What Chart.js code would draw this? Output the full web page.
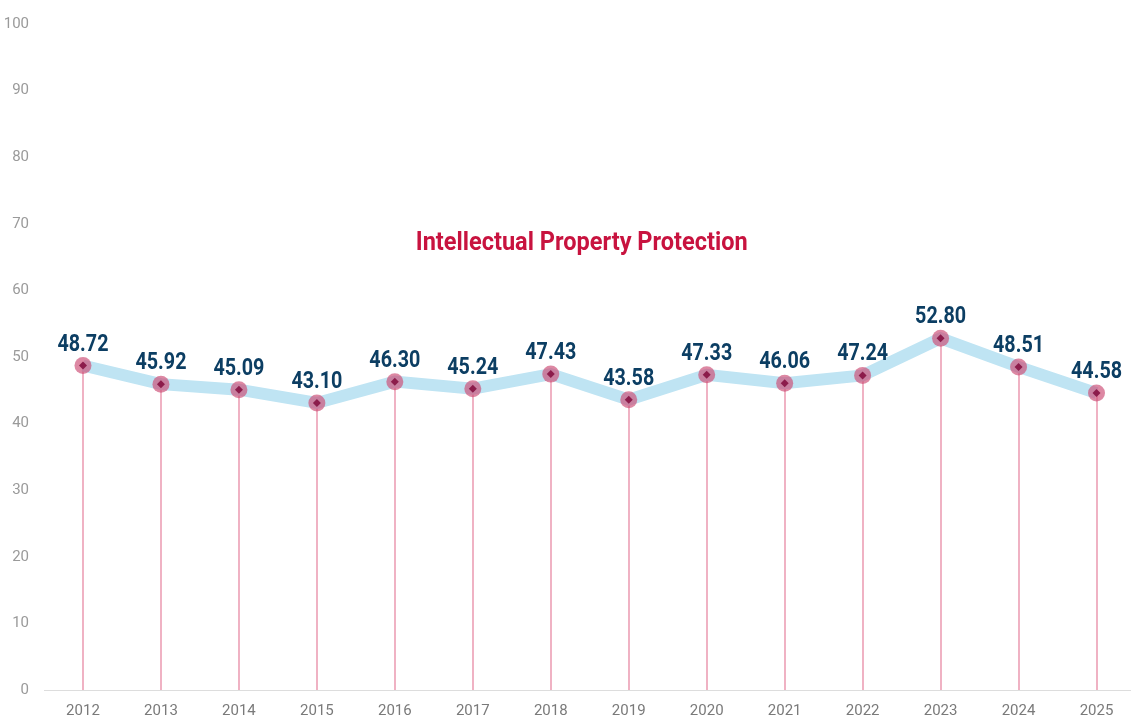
<!DOCTYPE html>
<html><head><meta charset="utf-8">
<script src="https://cdn.jsdelivr.net/npm/chart.js@4"></script>
<style>html,body{margin:0;padding:0;background:#fff;overflow:hidden}#wrap{width:1144px;height:719px}</style>
</head><body><div id="wrap"><canvas id="c"></canvas></div>
<script>
const years = ['2012','2013','2014','2015','2016','2017','2018','2019','2020','2021','2022','2023','2024','2025'];
const scores = [48.72,45.92,45.09,43.10,46.30,45.24,47.43,43.58,47.33,46.06,47.24,52.80,48.51,44.58];
const titleText = 'Intellectual Property Protection';
const condFont = 'Roboto, sans-serif';

function condensedText(ctx, text, x, y, sx){
  ctx.save(); ctx.translate(x, y); ctx.scale(sx, 1); ctx.fillText(text, 0, 0); ctx.restore();
}
const dropLines = {
  id:'dropLines',
  beforeDatasetsDraw(chart){
    const {ctx, scales:{x,y}} = chart;
    ctx.save(); ctx.strokeStyle='#ec9fb5'; ctx.lineWidth=1.6;
    scores.forEach((v,i)=>{const px=Math.round(x.getPixelForValue(i));ctx.beginPath();ctx.moveTo(px,y.getPixelForValue(v));ctx.lineTo(px,y.getPixelForValue(0));ctx.stroke();});
    ctx.restore();
  }
};
const labelsPlugin = {
  id:'valLabels',
  afterDatasetsDraw(chart){
    const {ctx, scales:{x,y}} = chart;
    ctx.save();
    ctx.font = 'bold 24px '+condFont; ctx.fillStyle='#0c3e63'; ctx.textAlign='center'; ctx.textBaseline='alphabetic';
    const ls = 51/ctx.measureText('48.72').width;
    scores.forEach((v,i)=>{condensedText(ctx, v.toFixed(2), x.getPixelForValue(i), y.getPixelForValue(v)-15, ls);});
    ctx.font = 'bold 25px '+condFont; ctx.fillStyle='#c8133f';
    const ts = 332/ctx.measureText(titleText).width;
    condensedText(ctx, titleText, (x.getPixelForValue(6)+x.getPixelForValue(7))/2 - 8, y.getPixelForValue(66.0), ts);
    ctx.restore();
  }
};

new Chart(document.getElementById('c'), {
  type:'line',
  data:{labels:years, datasets:[
    {data:scores, borderColor:'#bfe4f3', borderWidth:12, tension:0, pointRadius:8.5, pointBackgroundColor:'rgba(205,80,120,0.68)', pointBorderWidth:0, pointHoverRadius:8.5, order:2},
    {data:scores, showLine:false, pointStyle:'rectRot', pointRadius:4, pointBackgroundColor:'#8c1c4b', pointBorderWidth:0, order:1}
  ]},
  options:{
    responsive:true, maintainAspectRatio:false, animation:false,
    layout:{padding:{top:8,right:0,left:0,bottom:0}},
    plugins:{legend:{display:false}, tooltip:{enabled:false}, title:{display:false}},
    scales:{
      x:{offset:true, grid:{display:false, drawTicks:false}, border:{color:'#dddddd'},
         afterFit(s){s.height=29;},
         ticks:{color:'#7a7a7a', font:{size:15, family:'Roboto'}, padding:12}},
      y:{min:0, max:100, grid:{display:false, drawTicks:false}, border:{display:false},
         afterFit(s){s.width=44;},
         ticks:{stepSize:10, color:'#9a9a9a', font:{size:15, family:'Roboto'}, padding:15}}
    }
  },
  plugins:[dropLines, labelsPlugin]
});
</script></body></html>
